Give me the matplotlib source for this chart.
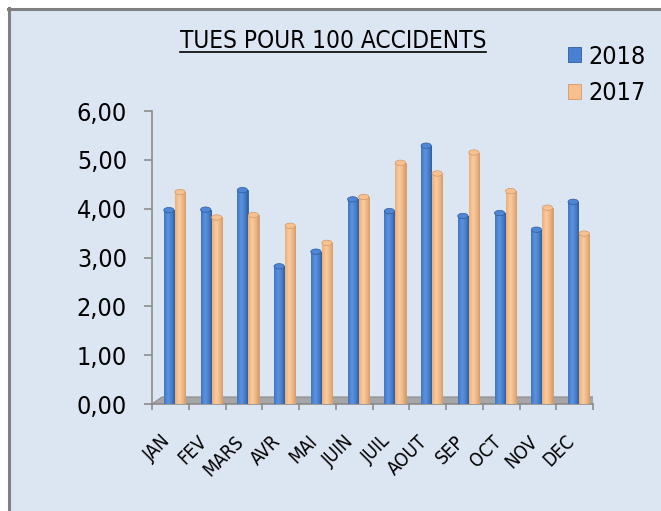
import numpy as np
import matplotlib
matplotlib.use("Agg")
import matplotlib.pyplot as plt
from matplotlib.patches import Polygon, Rectangle, Ellipse
from matplotlib.lines import Line2D

plt.rcParams["font.family"] = ["DejaVu Sans"]
plt.rcParams["font.stretch"] = "condensed"

# data
months = ["JAN", "FEV", "MARS", "AVR", "MAI", "JUIN", "JUIL", "AOUT", "SEP", "OCT", "NOV", "DEC"]
tues_2018 = [3.97, 3.98, 4.38, 2.82, 3.12, 4.19, 3.95, 5.29, 3.85, 3.91, 3.57, 4.14]
tues_2017 = [4.34, 3.82, 3.87, 3.65, 3.30, 4.24, 4.94, 4.72, 5.15, 4.36, 4.02, 3.49]
yticks = [0, 1, 2, 3, 4, 5, 6]

W, H = 661, 511
BG = "#dce6f2"
AXIS = "#8c8c8c"


def shade(ax, bars, dark, light, top):
    # cylinder-like horizontal gradient clipped to each bar, plus a rounded cap
    dark = np.array(matplotlib.colors.to_rgb(dark))
    light = np.array(matplotlib.colors.to_rgb(light))
    t = np.linspace(0, 1, 40)
    prof = np.clip(1 - np.abs(t - 0.4) / 0.6, 0, 1) ** 0.7
    grad = dark[None, :] + (light - dark)[None, :] * prof[:, None]
    img = grad[None, :, :]
    for p in bars:
        x0, w, h = p.get_x(), p.get_width(), p.get_height()
        im = ax.imshow(img, extent=[x0, x0 + w, 0, h], aspect="auto",
                       interpolation="bilinear", zorder=5)
        im.set_clip_path(p)
        ax.add_patch(Ellipse((x0 + w / 2, h), w, 0.11, facecolor=top,
                             edgecolor=dark, linewidth=0.5, zorder=6))


fig = plt.figure(figsize=(W / 100, H / 100), dpi=100)
fig.patch.set_facecolor("white")
# chart area background with grey border on top/left
fig.patches.append(Rectangle((8 / W, 0), 1 - 8 / W, 1 - 8 / H, transform=fig.transFigure,
                             facecolor=BG, edgecolor="none", zorder=-5))
fig.lines.append(Line2D([9 / W, 9 / W], [0, 1 - 8 / H], transform=fig.transFigure,
                        color="#808080", lw=2.2, zorder=-4))
fig.lines.append(Line2D([8 / W, 1], [1 - 9 / H, 1 - 9 / H], transform=fig.transFigure,
                        color="#808080", lw=2.2, zorder=-4))

ax = fig.add_axes([152 / W, 107 / H, 441 / W, 293 / H])
ax.set_zorder(1)
ax.set_facecolor("none")

x = np.arange(len(months))
b18 = ax.bar(x - 0.04, tues_2018, width=0.28, color="#4a80d2", edgecolor="#2f5f9f",
             linewidth=0.6, label="2018", zorder=4)
b17 = ax.bar(x + 0.26, tues_2017, width=0.28, color="#f9c08e", edgecolor="#d09a68",
             linewidth=0.6, label="2017", zorder=4)
shade(ax, b18, "#2d5c9e", "#5a93e3", "#4f86d6")
shade(ax, b17, "#d39864", "#fdcb9c", "#f8c290")

# thin 3D-style floor
px = lambda v: -0.5 + (v - 152) / 36.75
py = lambda v: (404 - v) / 48.83
floor = Polygon([(px(152), 0), (px(593), 0), (px(600), py(397)), (px(162), py(397))],
                closed=True, facecolor="#a6a6a6", edgecolor=AXIS, linewidth=0.8, zorder=2)
ax.add_patch(floor)

ax.set_xlim(-0.5, 11.5)
ax.set_ylim(0, 6)

for s in ["top", "right", "bottom"]:
    ax.spines[s].set_visible(False)
ax.spines["left"].set_color(AXIS)
ax.spines["left"].set_linewidth(1.2)
ax.axhline(0, color=AXIS, lw=1.2, zorder=2.5, clip_on=False)

ax.set_yticks(yticks)
ax.set_yticklabels([f"{v:.2f}".replace(".", ",") for v in yticks], fontsize=18)
ax.tick_params(axis="y", length=6, width=1.2, color=AXIS, pad=12)

ax.set_xticks(x + 0.1)
ax.set_xticklabels(months, rotation=45, ha="right", fontsize=13.5)
ax.tick_params(axis="x", which="major", length=0, pad=20)
ax.set_xticks(np.arange(-0.5, 12, 1), minor=True)
ax.tick_params(axis="x", which="minor", length=4.5, width=1.2, color=AXIS)

title = fig.text(333 / W, 1 - 48 / H, "TUES POUR 100 ACCIDENTS", ha="center",
                 va="baseline", fontsize=17.5)
fig.canvas.draw()
tb = title.get_window_extent()
fig.lines.append(Line2D([tb.x0 / W, tb.x1 / W], [1 - 52 / H, 1 - 52 / H],
                        transform=fig.transFigure, color="black", lw=1.2))

fig.legend(handles=[b18, b17], loc="upper left", bbox_to_anchor=(555 / W, 1 - 32 / H),
           frameon=False, fontsize=18, handlelength=0.55, handleheight=0.55,
           handletextpad=0.3, labelspacing=0.5, borderpad=0)

fig.savefig("out.png", dpi=100, facecolor=fig.get_facecolor())
